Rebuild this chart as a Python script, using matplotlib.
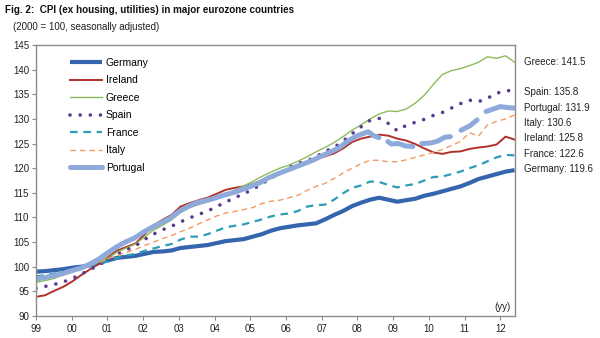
import numpy as np
import matplotlib
matplotlib.use("Agg")
import matplotlib.pyplot as plt

# quarterly readings, Q1 1999 .. spring 2012
dates = np.linspace(1999.0, 2012.4, 54)

germany = [99.0, 99.1, 99.3, 99.5, 99.8, 100.0, 100.3, 100.8, 101.3, 101.8, 102.0, 102.2,
           102.6, 103.0, 103.1, 103.3, 103.8, 104.0, 104.2, 104.4, 104.8, 105.2, 105.4, 105.6,
           106.1, 106.6, 107.3, 107.8, 108.1, 108.4, 108.6, 108.8, 109.6, 110.5, 111.3, 112.3,
           113.0, 113.6, 114.0, 113.6, 113.2, 113.5, 113.8, 114.4, 114.8, 115.3, 115.8, 116.3,
           117.0, 117.8, 118.3, 118.8, 119.3, 119.6]
ireland = [93.9, 94.2, 95.1, 95.9, 97.0, 98.3, 99.5, 100.6, 102.0, 103.3, 104.0, 104.7,
           106.5, 108.4, 109.5, 110.5, 112.2, 112.9, 113.5, 114.0, 114.8, 115.6, 116.0, 116.3,
           116.8, 117.5, 118.3, 118.8, 119.6, 120.6, 121.2, 121.8, 122.4, 123.0, 124.0, 125.3,
           126.0, 126.4, 126.8, 126.6, 126.0, 125.6, 124.9, 124.0, 123.2, 122.9, 123.3, 123.4,
           123.9, 124.2, 124.4, 124.8, 126.4, 125.8]
greece = [96.8, 97.2, 97.6, 98.4, 99.0, 99.6, 100.2, 101.0, 101.8, 103.0, 103.8, 104.6,
          106.0, 107.4, 108.4, 109.5, 111.0, 112.0, 112.6, 113.2, 113.9, 114.8, 115.5, 116.4,
          117.3, 118.3, 119.2, 120.0, 120.6, 121.4, 122.3, 123.3, 124.2, 125.2, 126.4, 127.7,
          128.8, 130.0, 131.0, 131.6, 131.5, 132.0, 133.2, 134.8, 137.0, 139.0, 139.8, 140.2,
          140.8, 141.5, 142.6, 142.3, 142.8, 141.5]
spain = [95.6, 96.0, 96.4, 96.9, 97.6, 98.5, 99.4, 100.4, 101.4, 102.5, 103.4, 104.2,
         105.5, 106.6, 107.5, 108.2, 109.1, 109.9, 110.6, 111.3, 112.2, 113.1, 114.0, 114.8,
         115.7, 116.8, 118.0, 118.9, 120.1, 120.9, 121.5, 122.3, 123.4, 124.2, 125.5, 127.0,
         128.4, 129.7, 130.1, 129.1, 127.6, 128.7, 129.3, 129.9, 130.7, 131.3, 132.2, 133.1,
         133.8, 133.5, 134.2, 135.2, 135.7, 135.8]
france = [98.0, 98.3, 98.6, 98.9, 99.4, 99.8, 100.2, 100.7, 101.1, 101.8, 102.3, 102.6,
          103.2, 103.7, 104.2, 104.6, 105.5, 106.1, 106.1, 106.6, 107.3, 108.0, 108.3, 108.6,
          109.1, 109.6, 110.2, 110.6, 110.8, 111.3, 112.2, 112.5, 112.6, 113.6, 114.9, 116.0,
          116.5, 117.3, 117.2, 116.6, 116.1, 116.5, 116.8, 117.5, 118.2, 118.3, 118.8, 119.3,
          120.0, 120.6, 121.4, 122.2, 122.7, 122.6]
italy = [97.8, 98.1, 98.4, 98.8, 99.4, 99.9, 100.3, 100.9, 101.6, 102.3, 102.9, 103.5,
         104.3, 105.0, 105.7, 106.3, 107.1, 107.8, 108.7, 109.5, 110.3, 110.9, 111.2, 111.6,
         112.0, 112.8, 113.3, 113.5, 114.0, 114.5, 115.5, 116.3, 116.9, 117.9, 119.0, 120.0,
         120.9, 121.6, 121.6, 121.3, 121.3, 121.7, 122.2, 122.7, 123.2, 123.8, 124.6, 125.4,
         127.2, 126.5, 128.8, 129.5, 130.0, 130.8]

# Portugal has breaks in the series (nan = gap)
portugal_dates = [1999.0, 1999.25, 1999.5, 1999.75, 2000.0, 2000.25, 2000.5, 2000.75,
                  2001.0, 2001.25, 2001.5, 2001.75, 2002.0, 2002.25, 2002.5, 2002.75,
                  2003.0, 2003.25, 2003.5, 2003.75, 2004.0, 2004.25, 2004.5, 2004.75,
                  2005.0, 2005.25, 2005.5, 2005.75, 2006.0, 2006.25, 2006.5, 2006.75,
                  2007.0, 2007.25, 2007.5, 2007.75, 2008.0, 2008.15, 2008.3, 2008.45,
                  2008.6, 2008.75, 2008.85, 2008.95, 2009.15, 2009.35, 2009.55, 2009.7,
                  2009.8, 2010.05, 2010.25, 2010.45, 2010.6, 2010.7, 2010.9, 2011.15,
                  2011.35, 2011.45, 2011.6, 2011.8, 2012.0, 2012.2, 2012.4]
portugal = [97.5, 97.8, 98.2, 98.6, 99.2, 99.7, 100.5, 101.5,
            102.8, 104.0, 105.0, 105.8, 107.0, 108.0, 108.9, 109.8,
            111.2, 112.2, 113.0, 113.4, 113.9, 114.5, 115.0, 115.6,
            116.3, 117.0, 118.0, 118.8, 119.5, 120.2, 120.9, 121.6,
            122.5, 123.3, 124.2, 125.6, 126.6, 127.0, 127.4, 126.6,
            126.2, np.nan, 125.4, 124.9, 125.0, 124.5, 124.4, np.nan,
            125.0, 125.1, 125.5, 126.3, 126.4, np.nan, 127.7, 128.6,
            129.8, np.nan, 131.5, 132.0, 132.5, 132.3, 132.2]

end_labels = ["Greece: 141.5", "Spain: 135.8", "Portugal: 131.9", "Italy: 130.6",
              "Ireland: 125.8", "France: 122.6", "Germany: 119.6"]
label_y = [141.5, 135.4, 132.3, 129.2, 126.1, 122.8, 119.8]

year_ticks = list(range(1999, 2013))
year_labels = ["99", "00", "01", "02", "03", "04", "05", "06", "07", "08", "09", "10", "11", "12"]

plt.rcParams["font.family"] = ["Liberation Sans", "DejaVu Sans"]
plt.rcParams["font.size"] = 7

fig = plt.figure(figsize=(6, 3.38), dpi=100)
ax = fig.add_axes([0.06, 0.0651, 0.7977, 0.8018])

ax.plot(dates, germany, color="#3566ad", lw=3.0, label="Germany", solid_capstyle="butt")
ax.plot(dates, ireland, color="#b1302c", lw=1.4, label="Ireland")
ax.plot(dates, greece, color="#8ebb59", lw=1.0, label="Greece")
ax.plot(dates, spain, color="#5a3a8e", lw=2.6, linestyle=(0, (0.01, 2.8)),
        dash_capstyle="round", label="Spain")
ax.plot(dates, france, color="#2e9cb6", lw=1.6, linestyle=(0, (3.4, 2.6)), label="France")
ax.plot(dates, italy, color="#f19a62", lw=1.0, linestyle=(0, (4.0, 2.8)), label="Italy")
ax.plot(portugal_dates, portugal, color="#8eaadb", lw=3.6, label="Portugal",
        solid_capstyle="round")

ax.set_xlim(1999.0, 2012.4)
ax.set_ylim(90, 145)
ax.set_yticks(range(90, 146, 5))
ax.set_xticks(year_ticks)
ax.set_xticklabels(year_labels)

for s in ax.spines.values():
    s.set_color("#8c8c8c")
    s.set_linewidth(1.0)
ax.tick_params(axis="both", colors="#8c8c8c", labelcolor="#222222", length=3, width=0.8,
               direction="out", labelsize=7)
ax.tick_params(axis="y", pad=2)
ax.tick_params(axis="x", pad=3)

for txt, yv in zip(end_labels, label_y):
    ax.text(1.02, yv, txt, transform=ax.get_yaxis_transform(), ha="left", va="center",
            fontsize=7, color="#222222")

ax.text(2012.3, 91.8, "(yy)", ha="right", va="center", fontsize=7, color="#222222")

leg = ax.legend(loc="upper left", bbox_to_anchor=(0.06, 0.972), frameon=False, fontsize=7.5,
                handlelength=3.1, handletextpad=0.35, labelspacing=0.72, borderpad=0)

fig.text(0.008, 0.970, "Fig. 2:  CPI (ex housing, utilities) in major eurozone countries",
         fontsize=7.1, fontweight="bold", ha="left", va="center", color="#111111")
fig.text(0.022, 0.920, "(2000 = 100, seasonally adjusted)", fontsize=7, ha="left",
         va="center", color="#222222")

fig.savefig("out.png", dpi=100)
